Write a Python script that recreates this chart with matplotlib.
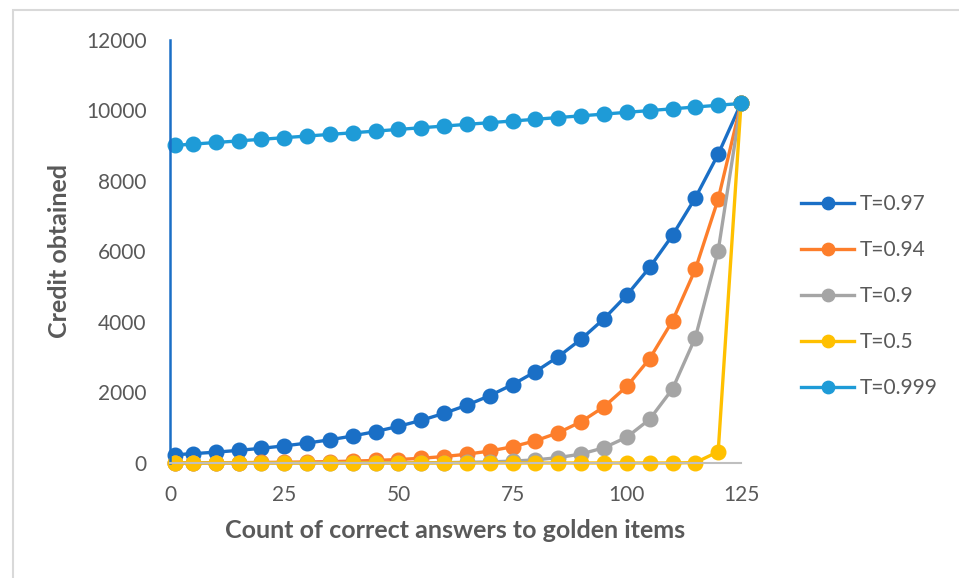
import matplotlib.pyplot as plt
from matplotlib.patches import Rectangle

plt.rcParams['font.family'] = ['Lato', 'DejaVu Sans']

# correct answers to golden items
answers = [1, 5, 10, 15, 20, 25, 30, 35, 40, 45, 50, 55, 60, 65, 70, 75,
           80, 85, 90, 95, 100, 105, 110, 115, 120, 125]

# credit obtained for each threshold
t_097 = [233, 264, 307, 358, 417, 485, 565, 658, 766, 892, 1039, 1210, 1409,
         1640, 1911, 2225, 2591, 3017, 3513, 4091, 4763, 5547, 6460, 7522, 8759, 10200]
t_094 = [5, 6, 8, 11, 15, 21, 29, 39, 53, 72, 98, 134, 183, 249, 339, 462,
         630, 858, 1170, 1594, 2172, 2959, 4032, 5494, 7486, 10200]
t_090 = [0, 0, 0, 0, 0, 0, 0, 1, 1, 2, 4, 6, 11, 18, 31, 53, 89, 151, 255,
         432, 732, 1240, 2100, 3557, 6023, 10200]
t_050 = [0, 0, 0, 0, 0, 0, 0, 0, 0, 0, 0, 0, 0, 0, 0, 0, 0, 0, 0, 0, 0, 0,
         0, 10, 319, 10200]
t_0999 = [9011, 9046, 9092, 9137, 9183, 9229, 9275, 9322, 9368, 9415, 9463,
          9511, 9558, 9607, 9655, 9702, 9751, 9800, 9849, 9898, 9948, 9998,
          10048, 10099, 10149, 10200]

series = [
    ('T=0.97', t_097, '#1a6fc6'),
    ('T=0.94', t_094, '#fd7e2b'),
    ('T=0.9', t_090, '#a5a5a5'),
    ('T=0.5', t_050, '#ffc000'),
    ('T=0.999', t_0999, '#1e9bd7'),
]

txt = '#595959'

fig = plt.figure(figsize=(9.59, 5.78), dpi=100)
fig.patches.append(Rectangle((0.0135, -0.1), 1.2, 1.083, transform=fig.transFigure,
                             fill=False, edgecolor='#d9d9d9', linewidth=1.5))
ax = fig.add_axes([0.1773, 0.199, 0.5954, 0.7318])

for name, vals, col in series:
    ax.plot(answers, vals, color=col, lw=2.4, marker='o', ms=10.5,
            label=name, clip_on=False)

ax.set_xlim(0, 125)
ax.set_ylim(0, 12000)
ax.set_xticks([0, 25, 50, 75, 100, 125])
ax.set_yticks(range(0, 12001, 2000))
ax.tick_params(length=0, labelsize=15, labelcolor=txt)
ax.tick_params(axis='x', pad=16)
ax.tick_params(axis='y', pad=17)

for s in ['top', 'right']:
    ax.spines[s].set_visible(False)
ax.spines['bottom'].set_color('#bfbfbf')
ax.spines['bottom'].set_linewidth(1.5)
ax.spines['left'].set_color('#1a6fc6')
ax.spines['left'].set_linewidth(1.8)

ax.set_xlabel('Count of correct answers to golden items', fontsize=18,
              fontweight='bold', color=txt, labelpad=10)
ax.set_ylabel('Credit obtained', fontsize=18, fontweight='bold', color=txt,
              labelpad=11)

ax.legend(loc='center left', bbox_to_anchor=(0.816, 0.488),
          bbox_transform=fig.transFigure, frameon=False, fontsize=15,
          labelcolor=txt, handlelength=2.55, handletextpad=0.25,
          labelspacing=1.25, markerscale=0.85)

fig.savefig('out.png', dpi=100)
